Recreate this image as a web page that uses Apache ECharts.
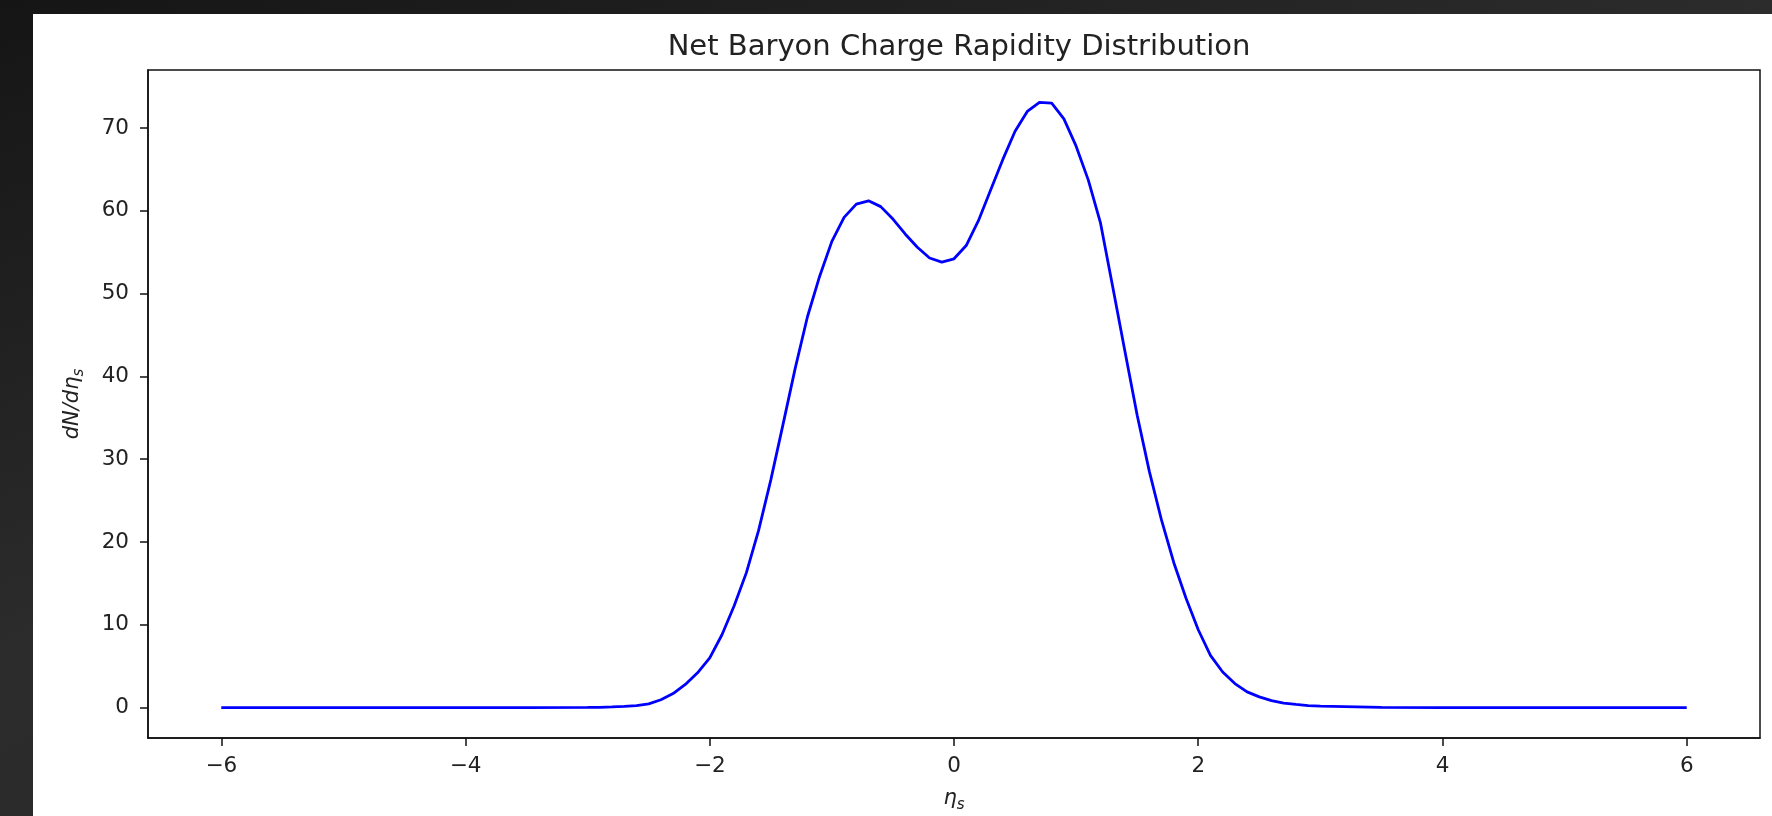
<!DOCTYPE html>
<html>
<head>
<meta charset="utf-8">
<title>Net Baryon Charge Rapidity Distribution</title>
<script src="https://cdn.jsdelivr.net/npm/echarts@6.0.0/dist/echarts.min.js"></script>
<style>
  html, body { margin: 0; padding: 0; width: 1772px; height: 816px; overflow: hidden; }
  body { background: linear-gradient(160deg, #151515 0%, #2c2c2c 45%, #262626 100%); }
  #paper { position: absolute; left: 33px; top: 14px; right: 0; bottom: 0; background: #ffffff; }
  #main { position: absolute; left: 0; top: 0; width: 1772px; height: 816px; }
</style>
</head>
<body>
<div id="paper"></div>
<div id="main"></div>
<script>
// eta_s grid and dN/deta_s
const etaS = [-6, -5, -4, -3.5,
  -3.0, -2.9, -2.8, -2.7, -2.6, -2.5, -2.4, -2.3, -2.2, -2.1,
  -2.0, -1.9, -1.8, -1.7, -1.6, -1.5, -1.4, -1.3, -1.2, -1.1,
  -1.0, -0.9, -0.8, -0.7, -0.6, -0.5, -0.4, -0.3, -0.2, -0.1,
  0.0, 0.1, 0.2, 0.3, 0.4, 0.5, 0.6, 0.7, 0.8, 0.9,
  1.0, 1.1, 1.2, 1.3, 1.4, 1.5, 1.6, 1.7, 1.8, 1.9,
  2.0, 2.1, 2.2, 2.3, 2.4, 2.5, 2.6, 2.7, 2.8, 2.9,
  3.0, 3.5, 4, 5, 6];
const dNdEta = [0, 0, 0, 0,
  0.02, 0.04, 0.08, 0.14, 0.25, 0.45, 0.95, 1.7, 2.8, 4.2,
  6.0, 8.8, 12.3, 16.3, 21.4, 27.5, 34.2, 41.0, 47.2, 52.1,
  56.3, 59.2, 60.8, 61.2, 60.5, 59.0, 57.2, 55.6, 54.3, 53.8,
  54.2, 55.8, 58.8, 62.5, 66.2, 69.6, 72.0, 73.1, 73.0, 71.1,
  67.8, 63.7, 58.5, 50.8, 43.0, 35.3, 28.5, 22.6, 17.5, 13.2,
  9.4, 6.3, 4.3, 2.9, 1.9, 1.3, 0.85, 0.55, 0.38, 0.25,
  0.17, 0.02, 0, 0, 0];

const xTicks = [-6, -4, -2, 0, 2, 4, 6];
const yTicks = [0, 10, 20, 30, 40, 50, 60, 70];

const fontFamily = 'DejaVu Sans';
const minus = v => String(v).replace('-', '\u2212');

// italic label with a subscript s, like matplotlib mathtext
const mathRich = {
  a: { fontFamily, fontStyle: 'italic', fontSize: 21, color: '#222', lineHeight: 28, verticalAlign: 'middle' },
  b: { fontFamily, fontStyle: 'italic', fontSize: 15, color: '#222', lineHeight: 28, verticalAlign: 'bottom', padding: [10, 0, 0, 0] },
};

const chart = echarts.init(document.getElementById('main'));
chart.setOption({
  animation: false,
  backgroundColor: 'transparent',
  title: {
    text: 'Net Baryon Charge Rapidity Distribution',
    left: 954,
    top: 28,
    textAlign: 'center',
    textStyle: { fontFamily, fontSize: 29, fontWeight: 'normal', color: '#222' },
  },
  grid: {
    left: 148,
    top: 70,
    right: 12,
    bottom: 78,
    outerBoundsMode: 'none',
    show: true,
    borderColor: '#111',
    borderWidth: 1.5,
    backgroundColor: '#fff',
  },
  xAxis: {
    type: 'value',
    min: -6.6,
    max: 6.6,
    name: '{a|\u03b7}{b|s}',
    nameLocation: 'middle',
    nameGap: 47,
    nameTextStyle: { rich: mathRich },
    splitLine: { show: false },
    axisLine: { show: true, onZero: false, lineStyle: { color: '#111', width: 1.5 } },
    axisTick: { show: true, length: 8, lineStyle: { color: '#111', width: 1.5 }, customValues: xTicks },
    axisLabel: {
      customValues: xTicks,
      formatter: minus,
      margin: 17,
      fontFamily,
      fontSize: 21.5,
      color: '#222',
    },
  },
  yAxis: {
    type: 'value',
    min: -3.67,
    max: 77.0,
    name: '{a|dN/d\u03b7}{b|s}',
    nameLocation: 'middle',
    nameRotate: 90,
    nameGap: 61,
    nameTextStyle: { rich: mathRich },
    splitLine: { show: false },
    axisLine: { show: true, onZero: false, lineStyle: { color: '#111', width: 1.5 } },
    axisTick: { show: true, length: 8, lineStyle: { color: '#111', width: 1.5 }, customValues: yTicks },
    axisLabel: {
      customValues: yTicks,
      formatter: minus,
      margin: 19,
      fontFamily,
      fontSize: 21.5,
      color: '#222',
    },
  },
  series: [
    {
      type: 'line',
      data: etaS.map((x, i) => [x, dNdEta[i]]),
      showSymbol: false,
      smooth: false,
      lineStyle: { color: '#0000ff', width: 2.8 },
    },
  ],
});
</script>
</body>
</html>
